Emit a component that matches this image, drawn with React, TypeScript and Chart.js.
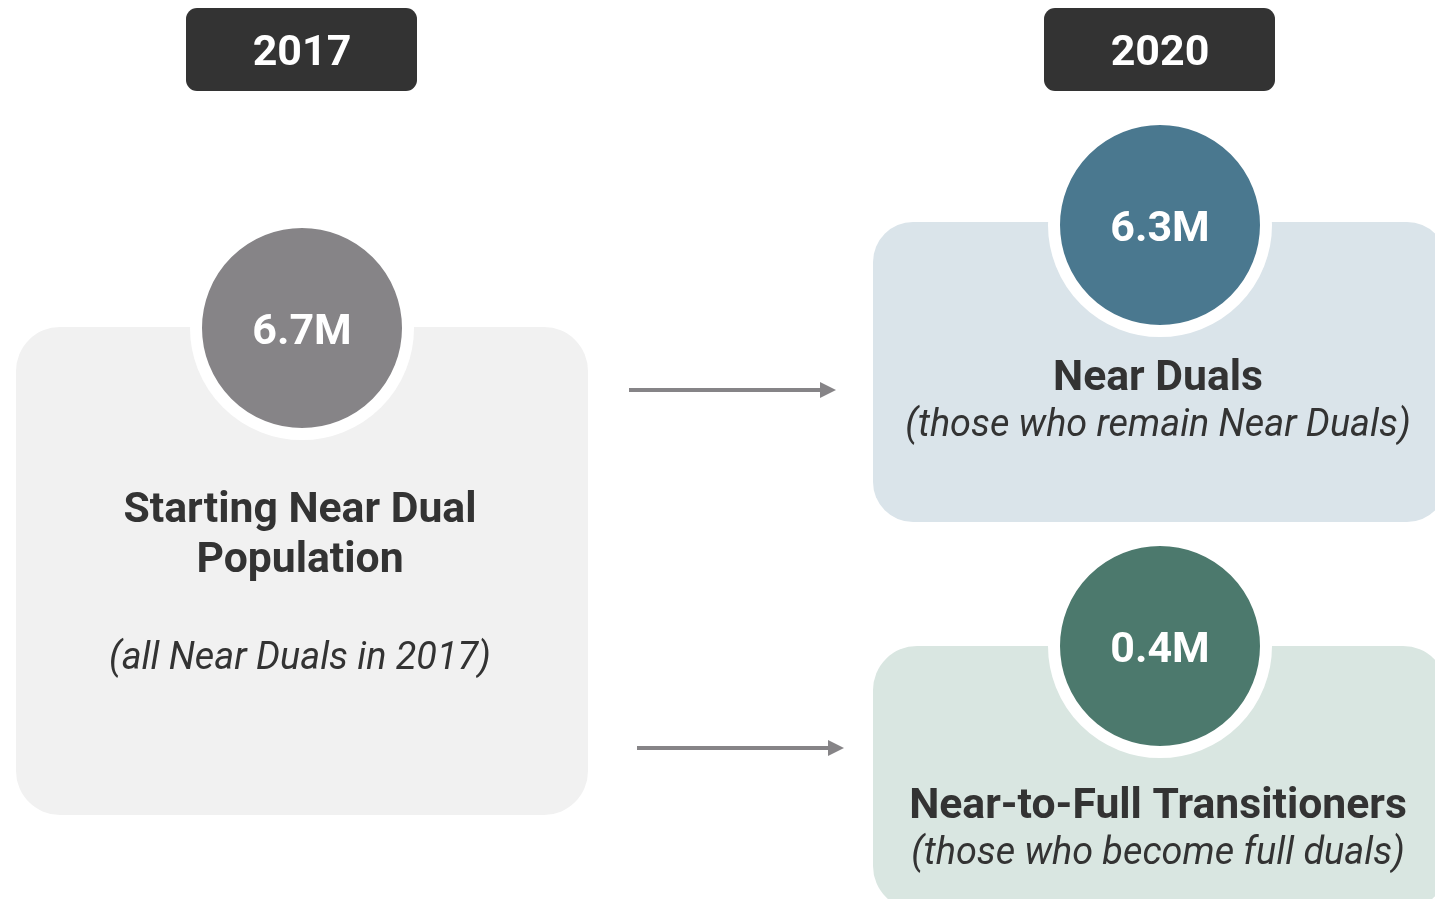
import React, { useEffect, useRef } from 'react';
import { Chart, registerables } from 'chart.js';

Chart.register(...registerables);

// ---- data ----
const periods: string[] = ['2017', '2020'];
const groupTitles: string[][] = [
  ['Starting Near Dual', 'Population'],
  ['Near Duals'],
  ['Near-to-Full Transitioners'],
];
const groupNotes: string[] = [
  '(all Near Duals in 2017)',
  '(those who remain Near Duals)',
  '(those who become full duals)',
];
const groupValuesM: number[] = [6.7, 6.3, 0.4];
const flows: number[][] = [
  [0, 1],
  [0, 2],
];

// ---- layout / style (scale units) ----
const W = 1435;
const H = 899;
const periodCenters = [302, 1160];
const nodeCenters = [
  { x: 302, y: 328 },
  { x: 1160, y: 225 },
  { x: 1160, y: 646 },
];
const nodeBoxes = [
  { x0: 16, y0: 327, x1: 588, y1: 815, r: 44 },
  { x0: 873, y0: 222, x1: 1447, y1: 522, r: 40 },
  { x0: 873, y0: 646, x1: 1447, y1: 910, r: 44 },
];
const titleBaselines = [[522, 572], [390], [818]];
const noteBaselines = [669, 436, 864];
const arrowGeom = [
  { x0: 629, x1: 836, y: 390 },
  { x0: 637, x1: 844, y: 748 },
];
const circleColors = ['#868487', '#4a788f', '#4c796d'];
const boxColors = ['#f1f1f1', '#dae4ea', '#d9e6e1'];
const textColor = '#333333';
const arrowColor = '#868487';

function roundRect(ctx: CanvasRenderingContext2D, x0: number, y0: number, x1: number, y1: number, r: number) {
  ctx.beginPath();
  ctx.moveTo(x0 + r, y0);
  ctx.lineTo(x1 - r, y0);
  ctx.arcTo(x1, y0, x1, y0 + r, r);
  ctx.lineTo(x1, y1 - r);
  ctx.arcTo(x1, y1, x1 - r, y1, r);
  ctx.lineTo(x0 + r, y1);
  ctx.arcTo(x0, y1, x0, y1 - r, r);
  ctx.lineTo(x0, y0 + r);
  ctx.arcTo(x0, y0, x0 + r, y0, r);
  ctx.closePath();
}

const backgroundPlugin = {
  id: 'infoBackground',
  beforeDatasetsDraw(chart: any) {
    const { ctx, scales } = chart;
    const px = (v: number) => scales.x.getPixelForValue(v);
    const py = (v: number) => scales.y.getPixelForValue(v);
    ctx.save();
    periods.forEach((p, i) => {
      const cx = periodCenters[i];
      roundRect(ctx, px(cx - 116), py(8), px(cx + 115), py(91), 11);
      ctx.fillStyle = '#333333';
      ctx.fill();
    });
    nodeBoxes.forEach((b, i) => {
      roundRect(ctx, px(b.x0), py(b.y0), px(b.x1), py(b.y1), b.r);
      ctx.fillStyle = boxColors[i];
      ctx.fill();
    });
    flows.forEach((f, i) => {
      const a = arrowGeom[i];
      const x0 = px(a.x0);
      const x1 = px(a.x1);
      const y = py(a.y);
      ctx.strokeStyle = arrowColor;
      ctx.lineWidth = 4;
      ctx.beginPath();
      ctx.moveTo(x0, y);
      ctx.lineTo(x1 - 12, y);
      ctx.stroke();
      ctx.fillStyle = arrowColor;
      ctx.beginPath();
      ctx.moveTo(x1, y);
      ctx.lineTo(x1 - 16, y - 8);
      ctx.lineTo(x1 - 16, y + 8);
      ctx.closePath();
      ctx.fill();
    });
    ctx.restore();
  },
  afterDatasetsDraw(chart: any) {
    const { ctx, scales } = chart;
    const px = (v: number) => scales.x.getPixelForValue(v);
    const py = (v: number) => scales.y.getPixelForValue(v);
    ctx.save();
    ctx.textAlign = 'center';
    ctx.textBaseline = 'alphabetic';
    periods.forEach((p, i) => {
      ctx.fillStyle = '#ffffff';
      ctx.font = 'bold 43px Roboto';
      ctx.fillText(p, px(periodCenters[i]), py(65));
    });
    groupValuesM.forEach((v, i) => {
      ctx.fillStyle = '#ffffff';
      ctx.font = 'bold 43px Roboto';
      ctx.fillText(v.toFixed(1) + 'M', px(nodeCenters[i].x), py(nodeCenters[i].y + 16));
    });
    groupTitles.forEach((lines, i) => {
      ctx.fillStyle = textColor;
      ctx.font = 'bold 42.7px Roboto';
      lines.forEach((line, j) => {
        ctx.fillText(line, px(nodeCenters[i].x - 2), py(titleBaselines[i][j]));
      });
      ctx.font = 'italic 37.8px Roboto';
      ctx.fillText(groupNotes[i], px(nodeCenters[i].x - 2), py(noteBaselines[i]));
    });
    ctx.restore();
  },
};

export default function App() {
  const canvasRef = useRef<HTMLCanvasElement | null>(null);

  useEffect(() => {
    document.body.style.margin = '0';
    const canvas = canvasRef.current;
    if (!canvas) return;
    const chart = new Chart(canvas, {
      type: 'bubble',
      data: {
        datasets: [
          {
            label: 'Population (M)',
            data: groupValuesM.map((v, i) => ({ x: nodeCenters[i].x, y: nodeCenters[i].y, r: 106 })),
            backgroundColor: circleColors,
            borderColor: '#ffffff',
            borderWidth: 12,
            clip: false,
          } as any,
        ],
      },
      options: {
        responsive: false,
        animation: false,
        devicePixelRatio: 1,
        layout: { padding: 0, autoPadding: false },
        plugins: {
          legend: { display: false },
          tooltip: { enabled: false },
          title: { display: false },
        },
        events: [],
        scales: {
          x: { type: 'linear', min: 0, max: W, display: false, offset: false },
          y: { type: 'linear', min: 0, max: H, reverse: true, display: false, offset: false },
        },
      } as any,
      plugins: [backgroundPlugin],
    });
    const fonts = (document as any).fonts;
    if (fonts && fonts.load) {
      Promise.all([
        fonts.load('bold 43px Roboto'),
        fonts.load('italic 38px Roboto'),
      ]).then(() => chart.draw()).catch(() => {});
    }
    return () => chart.destroy();
  }, []);

  return (
    <div style={{ position: 'absolute', left: 0, top: 0, width: W, height: H, background: '#ffffff' }}>
      <canvas ref={canvasRef} width={W} height={H} style={{ display: 'block', width: W, height: H }} />
    </div>
  );
}
